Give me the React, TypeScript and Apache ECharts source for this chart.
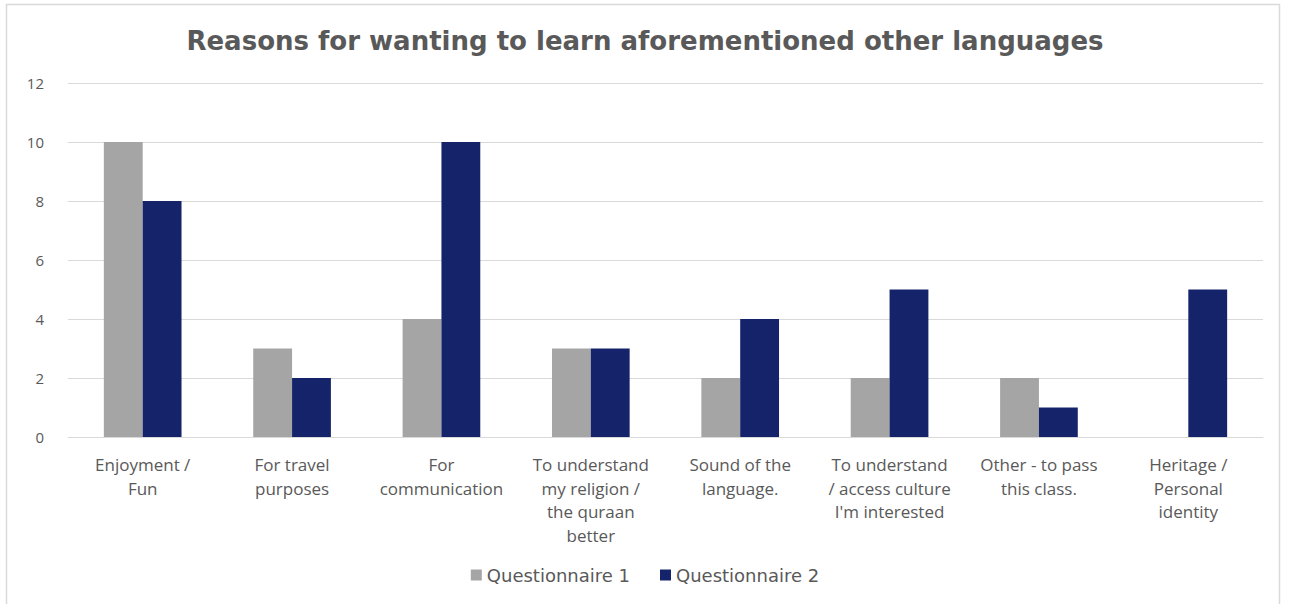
import React, { useEffect, useRef } from "react";
import * as echarts from "echarts";

const categories = [
  "Enjoyment /\nFun",
  "For travel\npurposes",
  "For\ncommunication",
  "To understand\nmy religion /\nthe quraan\nbetter",
  "Sound of the\nlanguage.",
  "To understand\n/ access culture\nI'm interested",
  "Other - to pass\nthis class.",
  "Heritage /\nPersonal\nidentity",
];
const questionnaire1 = [10, 3, 4, 3, 2, 2, 2, 0];
const questionnaire2 = [8, 2, 10, 3, 4, 5, 1, 5];
const seriesNames = ["Questionnaire 1", "Questionnaire 2"];
const titleText = "Reasons for wanting to learn aforementioned other languages";

export default function App() {
  const ref = useRef<HTMLDivElement>(null);
  useEffect(() => {
    if (!ref.current) return;
    const chart = echarts.init(ref.current, null, { renderer: "svg" });
    const font = "'Open Sans', 'Liberation Sans', sans-serif";
    const wide = "'DejaVu Sans', sans-serif";
    chart.setOption({
      animation: false,
      backgroundColor: "#ffffff",
      textStyle: { fontFamily: font },
      title: {
        text: titleText,
        left: "center",
        top: 23,
        textStyle: { fontSize: 26, fontWeight: "bold", color: "#595959", fontFamily: wide },
      },
      graphic: [
        {
          type: "rect",
          shape: { x: 6.5, y: 4.5, width: 1273, height: 620 },
          style: { fill: "none", stroke: "#d9d9d9", lineWidth: 1.5 },
          silent: true,
        },
      ],
      legend: {
        bottom: 15,
        left: "center",
        itemWidth: 11,
        itemHeight: 11,
        itemGap: 30,
        icon: "rect",
        textStyle: { fontSize: 18, color: "#595959", fontFamily: wide },
        data: seriesNames,
      },
      grid: { left: 68, right: 27, top: 83, bottom: 167, containLabel: false },
      xAxis: {
        type: "category",
        data: categories,
        axisLine: { show: true, lineStyle: { color: "#d9d9d9", width: 1 } },
        axisTick: { show: false },
        axisLabel: {
          interval: 0,
          fontSize: 17,
          color: "#595959",
          lineHeight: 23.5,
          margin: 16,
          fontFamily: font,
        },
      },
      yAxis: {
        type: "value",
        min: 0,
        max: 12,
        interval: 2,
        axisLine: { show: false },
        axisTick: { show: false },
        splitLine: { lineStyle: { color: "#d9d9d9", width: 1 } },
        axisLabel: { fontSize: 15, color: "#595959", margin: 24, fontFamily: font },
      },
      series: [
        {
          name: seriesNames[0],
          type: "bar",
          data: questionnaire1,
          itemStyle: { color: "#a5a5a5" },
          barGap: "0%",
          barCategoryGap: "48%",
        },
        {
          name: seriesNames[1],
          type: "bar",
          data: questionnaire2,
          itemStyle: { color: "#15246a" },
          barGap: "0%",
          barCategoryGap: "48%",
        },
      ],
    });
    return () => chart.dispose();
  }, []);
  return (
    <div
      ref={ref}
      style={{ position: "absolute", left: 0, top: 0, width: 1290, height: 604 }}
    />
  );
}
